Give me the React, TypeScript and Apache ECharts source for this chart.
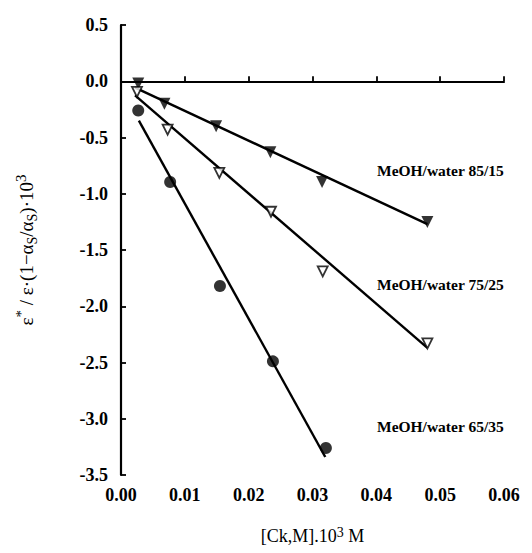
import React, { useEffect, useRef } from "react";
import * as echarts from "echarts";

const FONT = "Liberation Serif";

// MeOH/water 85/15 (filled down-triangles)
const x8515 = [0.0027, 0.0068, 0.0149, 0.0234, 0.0315, 0.048];
const y8515 = [-0.02, -0.2, -0.4, -0.63, -0.895, -1.25];
const fitX8515 = [0.0022, 0.048];
const fitY8515 = [-0.056, -1.27];

// MeOH/water 75/25 (open down-triangles)
const x7525 = [0.0025, 0.0073, 0.0154, 0.0235, 0.0316, 0.048];
const y7525 = [-0.095, -0.43, -0.815, -1.16, -1.69, -2.33];
const fitX7525 = [0.0022, 0.048];
const fitY7525 = [-0.125, -2.37];

// MeOH/water 65/35 (filled circles)
const x6535 = [0.0027, 0.0077, 0.0155, 0.0238, 0.0321];
const y6535 = [-0.26, -0.895, -1.82, -2.49, -3.26];
const fitX6535 = [0.0028, 0.032];
const fitY6535 = [-0.35, -3.34];

const seriesLabels = ["MeOH/water 85/15", "MeOH/water 75/25", "MeOH/water 65/35"];

const zip = (xs: number[], ys: number[]) => xs.map((x, i) => [x, ys[i]]);

export default function App() {
  const ref = useRef<HTMLDivElement>(null);
  useEffect(() => {
    document.body.style.margin = "0";
    if (!ref.current) return;
    const chart = echarts.init(ref.current, undefined, { renderer: "svg" });
    const lineStyle = { color: "#000", width: 2.4 };
    const fitSeries = (xs: number[], ys: number[]) => ({
      type: "line",
      data: zip(xs, ys),
      symbol: "none",
      lineStyle,
      z: 1,
    });
    const txt = { fontFamily: FONT, color: "#000", fontWeight: "bold" as const };
    chart.setOption({
      animation: false,
      backgroundColor: "#fff",
      grid: { left: 121, top: 25, right: 28, bottom: 78 },
      xAxis: {
        type: "value",
        min: 0,
        max: 0.06,
        interval: 0.01,
        name: "[Ck,M].10{s|3} M",
        nameLocation: "middle",
        nameGap: 50,
        nameTextStyle: {
          fontFamily: FONT,
          fontSize: 18,
          color: "#000",
          rich: {
            s: { fontFamily: FONT, fontSize: 14, color: "#000", verticalAlign: "top", lineHeight: 22 },
          },
        },
        axisLine: { lineStyle: { color: "#000", width: 2.2 } },
        axisTick: { inside: true, length: 5, lineStyle: { color: "#000", width: 1.8 } },
        axisLabel: {
          ...txt,
          fontSize: 18,
          margin: 11,
          formatter: (v: number) => v.toFixed(2),
        },
        splitLine: { show: false },
      },
      yAxis: {
        type: "value",
        min: -3.5,
        max: 0.5,
        interval: 0.5,
        name: "{a|ε}{s|*}{a| / ε·(1−α}{b|S}{a|/α}{b|S}{a|)·10}{s|3}",
        nameLocation: "middle",
        nameRotate: 90,
        nameGap: 82,
        nameTextStyle: {
          fontFamily: FONT,
          fontSize: 19,
          color: "#000",
          rich: {
            a: { fontFamily: FONT, fontSize: 19, color: "#000", lineHeight: 26, verticalAlign: "middle" },
            s: { fontFamily: FONT, fontSize: 15, color: "#000", lineHeight: 26, verticalAlign: "top" },
            b: { fontFamily: FONT, fontSize: 14, color: "#000", lineHeight: 26, verticalAlign: "bottom" },
          },
        },
        axisLine: { lineStyle: { color: "#000", width: 2.2 } },
        axisTick: { inside: true, length: 5, lineStyle: { color: "#000", width: 1.8 } },
        axisLabel: {
          ...txt,
          fontSize: 18,
          margin: 13,
          formatter: (v: number) => v.toFixed(1),
        },
        splitLine: { show: false },
      },
      series: [
        fitSeries(fitX8515, fitY8515),
        fitSeries(fitX7525, fitY7525),
        fitSeries(fitX6535, fitY6535),
        {
          type: "scatter",
          data: zip(x8515, y8515),
          symbol: "triangle",
          symbolRotate: 180,
          symbolSize: 12,
          itemStyle: { color: "#000" },
          z: 3,
        },
        {
          type: "scatter",
          data: zip(x7525, y7525),
          symbol: "triangle",
          symbolRotate: 180,
          symbolSize: 10,
          itemStyle: { color: "#fff", borderColor: "#000", borderWidth: 1.8 },
          z: 3,
        },
        {
          type: "scatter",
          data: zip(x6535, y6535),
          symbol: "circle",
          symbolSize: 12,
          itemStyle: { color: "#000" },
          z: 3,
        },
      ],
      graphic: [
        { type: "text", left: 377, top: 162, style: { text: seriesLabels[0], fontFamily: FONT, fontWeight: "bold", fontSize: 15.5, fill: "#000" } },
        { type: "text", left: 377, top: 276, style: { text: seriesLabels[1], fontFamily: FONT, fontWeight: "bold", fontSize: 15.5, fill: "#000" } },
        { type: "text", left: 377, top: 418, style: { text: seriesLabels[2], fontFamily: FONT, fontWeight: "bold", fontSize: 15.5, fill: "#000" } },
      ],
    });
    return () => chart.dispose();
  }, []);
  return <div ref={ref} style={{ width: 532, height: 553 }} />;
}
